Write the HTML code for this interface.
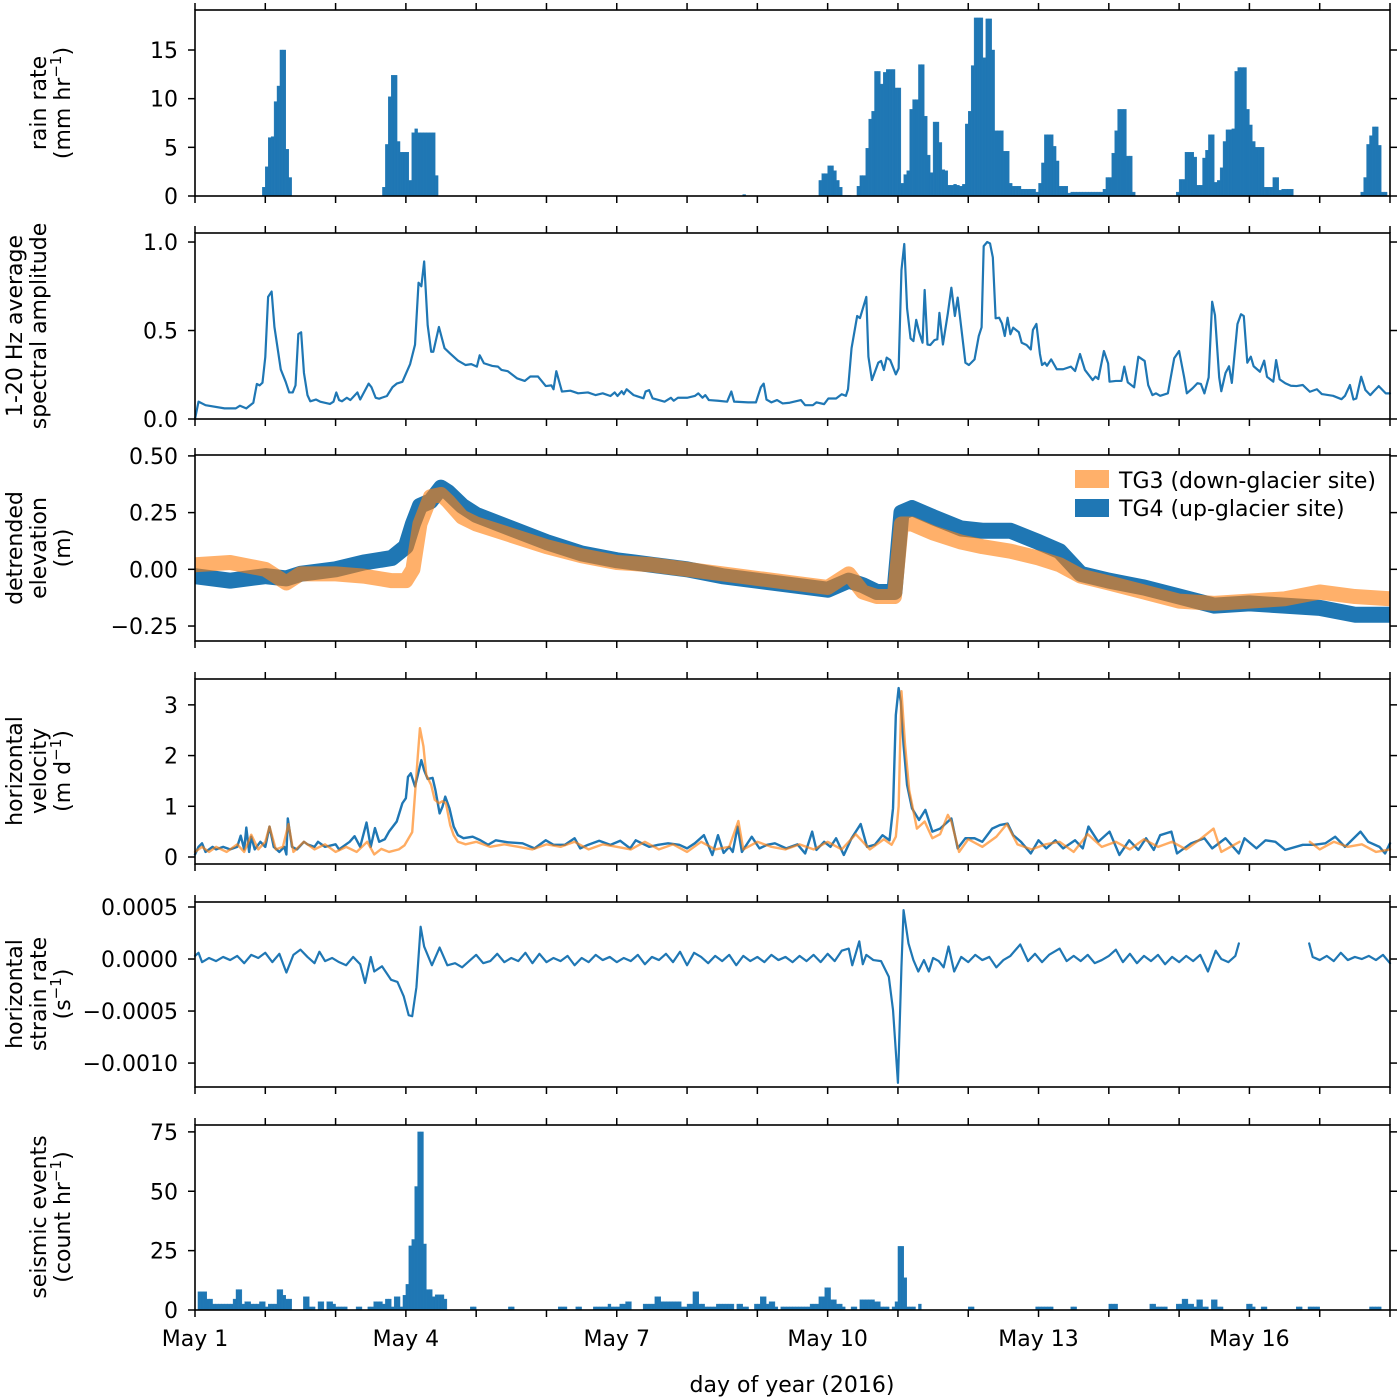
<!DOCTYPE html>
<html><head><meta charset="utf-8"><style>
html,body{margin:0;padding:0;background:#fff;}
svg{display:block;font-family:"DejaVu Sans","Liberation Sans",sans-serif;}
</style></head><body>
<svg id="fig" width="1400" height="1399" viewBox="0 0 1400 1399" xmlns="http://www.w3.org/2000/svg"></svg>
<script>
// ---------- DATA ----------
// rain rate (mm/hr), hourly bars: segment start hour + consecutive hourly values
const rainSegStart = [23, 64, 187, 213, 226, 263, 335, 398];
const rainSegValues = [
 [0.9,3.0,6.0,6.1,9.7,11.3,15,15,4.8,1.9],
 [0.9,5.3,10.2,12.4,12.4,5.6,4.5,4.5,4.5,1.6,6.5,6.9,6.5,6.5,6.5,6.5,6.5,6.5,2.1],
 [0.15],
 [1.6,2.3,2.3,3.1,3.1,2.6,1.6,0.9,0.05,0.05,0.05],
 [1.0,2.1,2.1,4.9,7.9,8.7,12.8,12.8,11.5,12.7,13.0,13.0,13.0,11.1,11.1,1.3,2.2,2.6,8.9,9.9,9.9,13.5,13.5,8.2,4.2,2.4,7.6,7.6,5.5,2.7,2.6,1.1,1.1,1.2,1.1,1.0,1.2],
 [7.4,8.7,13.4,18.3,18.3,18.3,14.2,18.2,18.2,15.0,6.7,6.7,6.7,4.6,4.6,1.3,1.0,1.0,1.0,0.7,0.7,0.7,0.7,0.7,0.4,1.3,3.4,6.3,6.3,6.3,5.1,3.6,1.0,1.0,1.0,0.3,0.4,0.4,0.4,0.4,0.4,0.4,0.4,0.4,0.4,0.4,0.4,0.7,1.9,1.9,4.4,6.7,8.9,8.9,8.9,4.1,4.1,0.4],
 [0.4,1.7,1.7,4.5,4.5,4.5,4.0,1.1,1.1,3.9,4.7,6.3,6.3,1.4,1.6,2.9,5.6,6.8,6.8,6.9,12.8,13.2,13.2,13.2,8.9,7.3,5.6,5.0,5.0,5.0,0.9,0.9,0.9,1.9,1.9,0.6,0.7,0.7,0.7,0.7],
 [0.4,1.9,5.3,6.2,7.1,7.1,5.2,0.4,0.4]
];
// spectral amplitude (day, value)
const specDays = [0,0.05,0.15,0.42,0.58,0.64,0.73,0.83,0.88,0.92,0.96,1.0,1.04,1.09,1.13,1.22,1.29,1.34,1.39,1.43,1.47,1.51,1.55,1.6,1.64,1.72,1.78,1.92,1.97,2.01,2.05,2.09,2.16,2.21,2.31,2.35,2.47,2.51,2.57,2.62,2.73,2.81,2.87,2.95,3.06,3.13,3.18,3.22,3.26,3.31,3.36,3.39,3.47,3.55,3.63,3.74,3.85,3.93,4.01,4.05,4.11,4.23,4.31,4.36,4.45,4.58,4.69,4.77,4.88,4.99,5.07,5.1,5.14,5.22,5.34,5.45,5.59,5.7,5.8,5.91,5.97,6.01,6.07,6.1,6.14,6.24,6.38,6.41,6.46,6.51,6.68,6.77,6.81,6.87,7.0,7.11,7.16,7.22,7.26,7.31,7.44,7.57,7.63,7.67,7.87,7.98,8.05,8.09,8.13,8.2,8.28,8.36,8.46,8.62,8.68,8.79,8.84,8.95,9.01,9.12,9.2,9.26,9.29,9.34,9.42,9.46,9.55,9.58,9.63,9.72,9.76,9.8,9.84,9.89,9.97,10.01,10.05,10.09,10.13,10.18,10.22,10.26,10.3,10.35,10.38,10.42,10.46,10.52,10.56,10.59,10.64,10.71,10.76,10.81,10.85,10.96,11.01,11.09,11.15,11.19,11.22,11.27,11.31,11.35,11.39,11.44,11.48,11.52,11.56,11.6,11.64,11.72,11.76,11.83,11.89,11.92,11.97,12.02,12.05,12.09,12.12,12.18,12.26,12.35,12.46,12.52,12.59,12.66,12.77,12.81,12.85,12.93,12.99,13.01,13.1,13.18,13.22,13.27,13.36,13.42,13.51,13.56,13.62,13.67,13.73,13.84,13.93,14.0,14.07,14.11,14.19,14.26,14.31,14.36,14.42,14.47,14.51,14.57,14.6,14.66,14.71,14.75,14.83,14.88,14.92,14.97,15.02,15.06,15.15,15.21,15.25,15.34,15.38,15.43,15.51,15.59,15.67,15.76,15.86,15.96,16.03,16.19,16.31,16.36,16.43,16.48,16.52,16.59,16.65,16.72,16.77,16.84,16.94,17.0];
const specValues = [0.0,0.098,0.078,0.06,0.06,0.075,0.06,0.092,0.198,0.19,0.205,0.35,0.69,0.72,0.52,0.28,0.21,0.15,0.15,0.19,0.48,0.49,0.26,0.135,0.1,0.11,0.098,0.085,0.098,0.15,0.107,0.1,0.12,0.107,0.15,0.11,0.2,0.18,0.12,0.115,0.13,0.18,0.2,0.21,0.31,0.42,0.77,0.75,0.89,0.53,0.38,0.38,0.52,0.4,0.37,0.33,0.305,0.31,0.296,0.36,0.315,0.3,0.296,0.277,0.27,0.23,0.215,0.24,0.24,0.186,0.19,0.168,0.27,0.155,0.16,0.145,0.15,0.135,0.145,0.13,0.15,0.13,0.157,0.14,0.168,0.135,0.117,0.155,0.163,0.117,0.098,0.12,0.103,0.12,0.12,0.13,0.145,0.12,0.135,0.107,0.103,0.098,0.155,0.098,0.094,0.094,0.18,0.2,0.11,0.094,0.107,0.088,0.092,0.107,0.078,0.078,0.094,0.084,0.116,0.116,0.14,0.131,0.168,0.4,0.582,0.57,0.69,0.352,0.22,0.318,0.328,0.277,0.347,0.333,0.252,0.286,0.842,0.989,0.625,0.455,0.44,0.56,0.493,0.431,0.729,0.421,0.418,0.446,0.45,0.6,0.421,0.597,0.742,0.582,0.686,0.318,0.305,0.337,0.469,0.518,0.977,1.0,0.992,0.913,0.569,0.572,0.54,0.469,0.572,0.479,0.516,0.49,0.431,0.418,0.393,0.503,0.537,0.367,0.305,0.318,0.301,0.337,0.281,0.281,0.296,0.271,0.367,0.277,0.22,0.239,0.226,0.384,0.314,0.211,0.215,0.215,0.296,0.207,0.179,0.352,0.328,0.192,0.135,0.145,0.131,0.145,0.343,0.384,0.239,0.145,0.173,0.202,0.198,0.145,0.235,0.663,0.587,0.235,0.157,0.26,0.298,0.204,0.537,0.592,0.582,0.318,0.352,0.298,0.267,0.33,0.239,0.211,0.333,0.224,0.202,0.188,0.186,0.192,0.154,0.168,0.141,0.131,0.112,0.131,0.192,0.11,0.116,0.239,0.164,0.135,0.157,0.186,0.145,0.145];
// detrended elevation (m): day, TG4 (blue), TG3 (orange)
const elevDays = [0,0.5,1.0,1.3,1.5,2.0,2.4,2.8,3.0,3.1,3.2,3.35,3.5,3.6,3.8,4.0,4.5,5.0,5.5,6.0,6.5,7.0,7.5,8.0,8.5,9.0,9.3,9.5,9.7,9.95,10.05,10.2,10.5,10.9,11.2,11.6,12.0,12.3,12.6,13.0,13.5,14.0,14.5,15.0,15.5,16.0,16.5,17.0];
const elevTG4 = [-0.03,-0.05,-0.03,-0.04,-0.02,0.0,0.03,0.05,0.1,0.2,0.28,0.3,0.36,0.34,0.28,0.24,0.18,0.12,0.07,0.04,0.02,0.0,-0.03,-0.05,-0.07,-0.09,-0.05,-0.07,-0.1,-0.1,0.25,0.27,0.23,0.18,0.17,0.17,0.12,0.08,-0.02,-0.05,-0.08,-0.12,-0.16,-0.15,-0.16,-0.17,-0.2,-0.2];
const elevTG3 = [0.02,0.03,0.0,-0.06,-0.02,-0.02,-0.03,-0.05,-0.05,0.0,0.2,0.32,0.33,0.3,0.23,0.2,0.15,0.1,0.06,0.03,0.02,0.0,-0.02,-0.04,-0.06,-0.08,-0.02,-0.1,-0.12,-0.12,0.2,0.2,0.16,0.12,0.1,0.08,0.05,0.02,-0.03,-0.06,-0.1,-0.14,-0.15,-0.14,-0.13,-0.1,-0.12,-0.13];
// horizontal velocity (m/d)
const velDaysTG4 = [0,0.05,0.1,0.15,0.25,0.3,0.4,0.5,0.6,0.65,0.7,0.73,0.77,0.8,0.85,0.93,1.0,1.06,1.12,1.2,1.27,1.3,1.32,1.38,1.45,1.55,1.6,1.7,1.75,1.85,2.0,2.05,2.15,2.2,2.27,2.35,2.44,2.5,2.56,2.62,2.7,2.76,2.87,2.95,3.0,3.03,3.07,3.13,3.17,3.22,3.26,3.31,3.38,3.42,3.48,3.52,3.56,3.62,3.68,3.74,3.82,3.95,4.06,4.17,4.28,4.45,4.66,4.83,4.99,5.1,5.26,5.4,5.48,5.59,5.75,5.91,6.05,6.19,6.27,6.46,6.59,6.73,6.89,7.0,7.11,7.24,7.36,7.44,7.52,7.6,7.65,7.72,7.78,7.92,8.03,8.14,8.25,8.41,8.57,8.68,8.78,8.84,8.95,9.04,9.12,9.23,9.34,9.47,9.56,9.67,9.78,9.88,9.93,9.97,10.01,10.04,10.08,10.13,10.2,10.3,10.39,10.49,10.6,10.68,10.76,10.85,10.96,11.09,11.2,11.34,11.45,11.56,11.64,11.75,11.89,12.0,12.11,12.24,12.35,12.52,12.63,12.71,12.85,13.01,13.15,13.29,13.42,13.53,13.64,13.73,13.89,13.97,14.17,14.36,14.47,14.66,14.85,14.93,15.1,15.23,15.37,15.51,15.76,15.92,16.08,16.22,16.36,16.58,16.69,16.85,16.93,17.0];
const velTG4 = [0.05,0.2,0.27,0.1,0.2,0.15,0.2,0.15,0.2,0.42,0.15,0.58,0.1,0.4,0.15,0.3,0.2,0.6,0.2,0.1,0.2,0.05,0.76,0.2,0.15,0.3,0.25,0.2,0.3,0.2,0.25,0.15,0.25,0.3,0.41,0.2,0.68,0.2,0.57,0.3,0.35,0.5,0.7,1.06,1.16,1.58,1.65,1.39,1.62,1.91,1.71,1.54,1.56,1.32,0.86,0.99,1.19,0.96,0.6,0.43,0.37,0.4,0.33,0.24,0.33,0.29,0.27,0.17,0.33,0.24,0.24,0.37,0.17,0.24,0.32,0.24,0.32,0.17,0.33,0.2,0.24,0.27,0.24,0.17,0.27,0.43,0.04,0.43,0.08,0.2,0.1,0.6,0.1,0.4,0.17,0.24,0.27,0.17,0.25,0.07,0.5,0.14,0.3,0.2,0.37,0.04,0.37,0.65,0.2,0.24,0.43,0.33,0.96,2.8,3.33,3.07,2.21,1.42,0.96,0.73,0.93,0.5,0.56,0.66,0.76,0.17,0.37,0.37,0.3,0.56,0.63,0.66,0.43,0.3,0.07,0.33,0.17,0.33,0.17,0.33,0.17,0.6,0.3,0.5,0.04,0.33,0.14,0.37,0.14,0.43,0.5,0.07,0.27,0.37,0.17,0.37,0.07,0.37,0.17,0.33,0.3,0.14,0.24,0.24,0.27,0.4,0.2,0.5,0.3,0.2,0.07,0.27];
const velDaysTG3 = [0,0.1,0.2,0.3,0.45,0.6,0.7,0.8,0.9,1.0,1.06,1.15,1.25,1.33,1.4,1.55,1.7,1.85,2.0,2.15,2.3,2.45,2.55,2.65,2.76,2.9,2.98,3.09,3.17,3.2,3.25,3.29,3.36,3.41,3.47,3.52,3.57,3.63,3.68,3.74,3.85,4.0,4.2,4.4,4.6,4.8,5.0,5.2,5.4,5.6,5.8,6.0,6.2,6.4,6.6,6.8,7.0,7.2,7.4,7.6,7.73,7.8,8.0,8.2,8.4,8.6,8.8,9.0,9.2,9.4,9.6,9.8,9.91,9.97,10.01,10.05,10.1,10.16,10.27,10.38,10.49,10.6,10.71,10.76,10.87,11.0,11.2,11.4,11.55,11.7,11.9,12.1,12.3,12.5,12.7,12.9,13.1,13.3,13.5,13.7,13.9,14.1,14.3,14.49,14.6,14.86,15.0,15.86,16.0,16.2,16.4,16.6,16.8,17.0];
const velTG3 = [0.1,0.2,0.1,0.2,0.1,0.25,0.1,0.44,0.15,0.3,0.6,0.15,0.2,0.65,0.1,0.3,0.15,0.25,0.1,0.2,0.1,0.3,0.05,0.16,0.1,0.15,0.23,0.49,2.0,2.54,2.18,1.62,1.42,1.13,1.06,1.1,1.06,0.63,0.43,0.3,0.25,0.3,0.2,0.25,0.2,0.15,0.25,0.2,0.3,0.15,0.25,0.2,0.15,0.3,0.15,0.25,0.1,0.3,0.15,0.2,0.71,0.15,0.3,0.2,0.15,0.25,0.15,0.3,0.15,0.45,0.15,0.35,0.24,0.4,1.0,3.27,2.23,1.32,0.56,0.7,0.37,0.45,0.83,0.7,0.1,0.35,0.2,0.4,0.65,0.25,0.15,0.25,0.3,0.1,0.45,0.2,0.3,0.15,0.35,0.2,0.3,0.15,0.35,0.56,0.1,0.3,null,0.3,0.15,0.3,0.2,0.25,0.1,0.15];
// horizontal strain rate (units of 1e-4 /s); null = gap
const strainDays = [0,0.05,0.1,0.2,0.3,0.4,0.5,0.6,0.7,0.8,0.9,1.0,1.1,1.2,1.3,1.4,1.5,1.6,1.7,1.77,1.85,1.95,2.05,2.15,2.25,2.35,2.42,2.5,2.55,2.66,2.79,2.88,2.97,3.04,3.09,3.15,3.21,3.26,3.37,3.48,3.59,3.7,3.8,3.9,4.0,4.1,4.2,4.3,4.4,4.5,4.6,4.7,4.8,4.9,5.0,5.1,5.2,5.3,5.4,5.5,5.6,5.7,5.8,5.9,6.0,6.1,6.2,6.3,6.4,6.5,6.6,6.7,6.8,6.9,7.0,7.1,7.2,7.3,7.4,7.5,7.6,7.7,7.8,7.9,8.0,8.1,8.2,8.3,8.4,8.5,8.6,8.7,8.8,8.9,9.0,9.1,9.2,9.3,9.35,9.45,9.5,9.55,9.65,9.76,9.87,9.93,10.0,10.05,10.08,10.15,10.22,10.29,10.37,10.44,10.5,10.58,10.65,10.72,10.8,10.9,11.0,11.1,11.2,11.3,11.4,11.5,11.6,11.74,11.85,11.95,12.05,12.15,12.3,12.4,12.5,12.6,12.7,12.8,12.9,13.0,13.1,13.2,13.3,13.4,13.5,13.6,13.7,13.8,13.9,14.0,14.1,14.2,14.3,14.41,14.52,14.6,14.7,14.8,14.85,15.3,15.85,15.9,16.0,16.1,16.2,16.3,16.4,16.5,16.6,16.7,16.8,16.9,17.0];
const strainValues = [0.3,0.6,-0.3,0.1,-0.2,0.2,-0.1,0.3,-0.4,0.4,0.1,0.6,-0.3,0.5,-1.3,0.4,0.9,0.2,-0.4,0.7,-0.2,0.1,-0.3,-0.6,0.2,-0.5,-2.3,0.2,-1.2,-0.7,-2.0,-2.2,-3.6,-5.4,-5.5,-2.7,3.1,1.2,-0.6,1.1,-0.6,-0.4,-0.8,-0.2,0.4,-0.4,-0.2,0.5,-0.3,0.1,-0.2,0.6,-0.4,0.5,-0.3,0.1,-0.2,0.3,-0.6,0.1,-0.3,0.4,-0.1,0.2,-0.3,0.1,-0.2,0.4,-0.5,0.2,-0.1,0.5,-0.3,0.7,-0.6,0.6,0.2,-0.4,0.3,-0.2,0.4,-0.6,0.3,-0.2,0.2,-0.3,0.4,-0.1,0.2,-0.3,0.3,-0.2,0.4,-0.3,0.5,-0.2,0.8,1.0,-0.6,1.7,-0.5,0.4,-0.1,-0.2,-1.7,-4.9,-11.9,-0.7,4.7,1.5,-0.1,-1.2,-0.1,-1.2,0.1,-0.2,-0.8,1.2,-1.2,0.2,-0.3,0.4,-0.1,0.2,-0.8,-0.1,0.3,1.4,-0.2,0.5,-0.3,0.4,1.0,-0.2,0.3,-0.2,0.4,-0.4,-0.1,0.3,0.9,-0.3,0.5,-0.4,0.3,-0.2,0.4,-0.5,0.2,-0.3,0.3,-0.2,0.4,-1.2,0.8,0.0,-0.3,0.3,1.5,null,1.5,0.2,-0.1,0.3,-0.2,0.6,-0.1,0.2,0.0,0.3,-0.1,0.4,-0.4];
// seismic events (count/hr), hourly bars
const seisSegStart = [1, 37, 94, 107, 124, 130, 136, 153, 264, 287, 299, 312, 326, 359, 376, 380, 401];
const seisSegValues = [
 [7.7,7.7,7.7,4.6,4.6,2.5,2.5,2.5,2.5,2.5,2.5,2.5,4.6,8.6,8.6,2.5,3.5,3.5,2.5,2.5,2.5,3.5,3.5,1.3,2.5,2.5,2.5,8.6,8.6,6.2,4.6,4.6],
 [5.6,5.6,1.3,1.3,0,3.5,3.5,0,3.5,3.5,2.5,1.3,1.3,1.3,1.3,0,0,0,1.3,1.3,0,0,1.3,1.3,3.5,3.5,3.5,2.5,4.6,4.6,1.3,5.6,5.6,1.3,6.2,10.8,27,29.7,52,75,75,27.8,8.6,8.6,5.6,6.4,6.4,6.4,4.6],
 [1.3,1.3],[1.3,1.3],[1.3,1.3,1.3],[1.3,1.3],
 [1.3,1.3,1.3,1.3,1.3,2.5,1.3,1.3,1.3,2.5,2.5,3.5,3.5],
 [2.5,2.5,2.5,2.5,5.6,5.6,3.5,3.5,3.5,3.5,3.5,3.5,3.5,1.3,1.3,2.5,2.5,7.7,7.7,2.5,2.5,1.3,1.3,1.3,1.3,2.5,2.5,2.5,2.5,2.5,2.5,0,2.5,2.5,1.3,1.3,0,0,2.5,2.5,5.6,5.6,2.5,3.5,3.5,1.3,0,1.3,1.3,1.3,1.3,1.3,1.3,1.3,1.3,1.3,1.3,2.5,2.5,2.5,5.6,5.6,9.4,9.4,4.3,4.3,2.5,2.5,1.3,0,0,1.3,1.3,0,4.3,4.3,4.3,4.3,4.3,3.5,3.5,1.3,1.3,1.3,0,1.3,3.5,26.8,26.8,13.6,1.3,1.3,1.3,0,2.5],
 [1.3,1.3],[1.3,1.3,1.3,1.3,1.3,1.3],[1.3,1.3],[2.5,2.5,2.5],
 [2.5,2.5,1.3,1.3,1.3,1.3,0,0,0,2.5,2.5,4.6,4.6,2.5,2.5,1.3,4.3,4.3,1.3,1.3,0,4.3,4.3,1.3,1.3],
 [2.5,2.5,1.3,0,0,1.3,1.3],[1.3,1.3],[1.3,1.3,1.3,1.3],[1.3,1.3,1.3,1.3]
];
const xTickDays = [0,3,6,9,12,15];
const xTickLabels = ["May 1","May 4","May 7","May 10","May 13","May 16"];
const rainTicks = [0,5,10,15];
const specTicks = [0,0.5,1.0];
const specTickLabels = ["0.0","0.5","1.0"];
const elevTicks = [-0.25,0,0.25,0.5];
const elevTickLabels = ["\u22120.25","0.00","0.25","0.50"];
const velTicks = [0,1,2,3];
const strainTicks = [-10,-5,0,5];
const strainTickLabels = ["\u22120.0010","\u22120.0005","0.0000","0.0005"];
const seisTicks = [0,25,50,75];

// ---------- DRAWING ----------
const NS="http://www.w3.org/2000/svg";
const svg=document.getElementById('fig');
const X0=195, X1=1390, D0=0, D1=17;
const BLUE="#1f77b4", ORANGE="#ff7f0e";
const FS=22;
function xs(d){return X0+(d-D0)/(D1-D0)*(X1-X0);}
function mk(tag,attrs,parent){const e=document.createElementNS(NS,tag);for(const k in attrs)e.setAttribute(k,attrs[k]);(parent||svg).appendChild(e);return e;}
function yScale(p){return v=>p.bottom-(v-p.vmin)/(p.vmax-p.vmin)*(p.bottom-p.top);}

const P=[
 {name:'rain-rate-panel',top:10,bottom:196,vmin:0,vmax:19.11},
 {name:'spectral-amplitude-panel',top:233,bottom:419,vmin:0,vmax:1.051},
 {name:'elevation-panel',top:455,bottom:641,vmin:-0.316,vmax:0.504},
 {name:'velocity-panel',top:679,bottom:864,vmin:-0.138,vmax:3.51},
 {name:'strain-rate-panel',top:902,bottom:1087,vmin:-12.3,vmax:5.48},
 {name:'seismic-panel',top:1125,bottom:1310,vmin:0,vmax:77.9}
];
const groups=P.map(p=>{const g=mk('g',{});return g;});

function bars(g,p,starts,vals,name){
  const ys=yScale(p);const w=(X1-X0)/(D1-D0)/24;
  starts.forEach((s,i)=>{vals[i].forEach((v,j)=>{if(!v)return;const h=s+j;const x=xs(h/24);const y=ys(v);
    const r=mk('rect',{x:x.toFixed(2),y:y.toFixed(2),width:w.toFixed(2),height:(ys(0)-y).toFixed(2),fill:BLUE,stroke:BLUE,'stroke-width':0.4},g);
    
    });});
}
function line(g,p,days,vals,color,width,opacity,name){
  const ys=yScale(p);let d='';let pen=false;
  days.forEach((t,i)=>{const v=vals[i];if(v===null||v===undefined){pen=false;return;}
    d+=(pen?'L':'M')+xs(t).toFixed(2)+','+ys(v).toFixed(2);pen=true;});
  const el=mk('path',{d:d,fill:'none',stroke:color,'stroke-width':width,'stroke-opacity':opacity,'stroke-linejoin':'round','stroke-linecap':'round'},g);
  
  
  return el;
}
function clip(p,i){const c=mk('clipPath',{id:'c'+i});mk('rect',{x:X0,y:p.top,width:X1-X0,height:p.bottom-p.top},c);return 'url(#c'+i+')';}

// series
bars(groups[0],P[0],rainSegStart,rainSegValues,'rain-bar');
line(groups[1],P[1],specDays,specValues,BLUE,2.2,1,'spectral-amplitude-line');
const g2=mk('g',{'clip-path':clip(P[2],2)},groups[2]);
line(g2,P[2],elevDays,elevTG4,BLUE,16,1,'tg4-elevation-band');
line(g2,P[2],elevDays,elevTG3,ORANGE,15,0.62,'tg3-elevation-band');
line(groups[3],P[3],velDaysTG4,velTG4,BLUE,2.4,1,'tg4-velocity-line');
line(groups[3],P[3],velDaysTG3,velTG3,ORANGE,2.4,0.65,'tg3-velocity-line');
line(groups[4],P[4],strainDays,strainValues,BLUE,2.2,1,'strain-rate-line');
bars(groups[5],P[5],seisSegStart,seisSegValues,'seismic-bar');

// axes
const yTickSets=[
 [rainTicks,rainTicks.map(String)],[specTicks,specTickLabels],[elevTicks,elevTickLabels],
 [velTicks,velTicks.map(String)],[strainTicks,strainTickLabels],[seisTicks,seisTicks.map(String)]];
P.forEach((p,i)=>{
  const g=groups[i];const ys=yScale(p);
  const fr=mk('rect',{x:X0,y:p.top,width:X1-X0,height:p.bottom-p.top,fill:'none',stroke:'#000','stroke-width':1.6},g);
  
  
  for(let d=0;d<=17;d++){const x=xs(d);
    mk('line',{x1:x,x2:x,y1:p.top,y2:p.top-7,stroke:'#000','stroke-width':1.5},g);
    mk('line',{x1:x,x2:x,y1:p.bottom,y2:p.bottom+7,stroke:'#000','stroke-width':1.5},g);}
  const [tv,tl]=yTickSets[i];
  tv.forEach((v,k)=>{const y=ys(v);
    mk('line',{x1:X0,x2:X0-7,y1:y,y2:y,stroke:'#000','stroke-width':1.5},g);
    mk('line',{x1:X1,x2:X1+7,y1:y,y2:y,stroke:'#000','stroke-width':1.5},g);
    const t=mk('text',{x:X0-17,y:y+8,'text-anchor':'end','font-size':FS,fill:'#000'},g);t.textContent=tl[k];
    
    });
});
// x tick labels
xTickDays.forEach((d,k)=>{const t=mk('text',{x:xs(d),y:1346,'text-anchor':'middle','font-size':FS,fill:'#000'});t.textContent=xTickLabels[k];
  
  });
</script>
<script>
(function(){
const NS="http://www.w3.org/2000/svg";const svg=document.getElementById('fig');
function txt(html,x,y,rot,name){const t=document.createElementNS(NS,'text');
 t.setAttribute('x',x);t.setAttribute('y',y);t.setAttribute('text-anchor','middle');t.setAttribute('font-size','22');
 if(rot)t.setAttribute('transform','rotate(-90 '+x+' '+y+')');t.innerHTML=html;
 
 
 svg.appendChild(t);}
const sup=s=>'<tspan dy="-9" font-size="15">'+s+'</tspan><tspan dy="9">)</tspan>';
txt('rain rate',46,103,true,'rain-y-title');
txt('(mm hr'+sup('\u22121'),70,103,true,'rain-y-units');
txt('1-20 Hz average',22,326,true,'spectral-y-title');
txt('spectral amplitude',46,326,true,'spectral-y-title-2');
txt('detrended',22,548,true,'elevation-y-title');
txt('elevation',46,548,true,'elevation-y-title-2');
txt('(m)',70,548,true,'elevation-y-units');
txt('horizontal',22,771,true,'velocity-y-title');
txt('velocity',46,771,true,'velocity-y-title-2');
txt('(m d'+sup('\u22121'),70,771,true,'velocity-y-units');
txt('horizontal',22,994,true,'strain-y-title');
txt('strain rate',46,994,true,'strain-y-title-2');
txt('(s'+sup('\u22121'),70,994,true,'strain-y-units');
txt('seismic events',46,1217,true,'seismic-y-title');
txt('(count hr'+sup('\u22121'),70,1217,true,'seismic-y-units');
txt('day of year (2016)',792,1392,false,'x-axis-title');
const lg=document.createElementNS(NS,'g');svg.appendChild(lg);
lg.innerHTML='<rect x="1075" y="470" width="34" height="18" fill="#ff7f0e" fill-opacity="0.62"/>'+
'<text x="1119" y="488" font-size="22">TG3 (down-glacier site)</text>'+
'<rect x="1075" y="499" width="34" height="18" fill="#1f77b4"/>'+
'<text x="1119" y="516" font-size="22">TG4 (up-glacier site)</text>';
})();
</script>
</body></html>
